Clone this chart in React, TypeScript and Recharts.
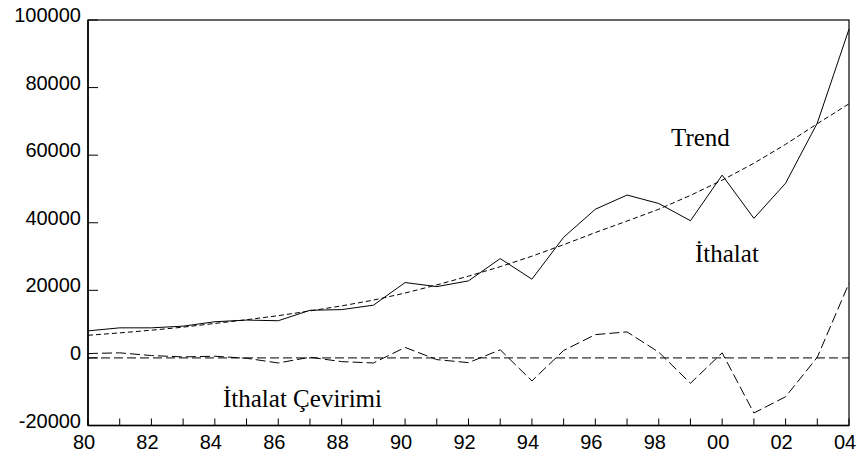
import * as R from "recharts";
import { LineChart, Line, XAxis, YAxis, ReferenceLine } from "recharts";

const years = ["80", "81", "82", "83", "84", "85", "86", "87", "88", "89", "90", "91", "92", "93", "94", "95", "96", "97", "98", "99", "00", "01", "02", "03", "04"];
const ithalat = [8000, 8900, 8900, 9400, 10700, 11200, 11000, 14100, 14300, 15600, 22300, 21100, 22800, 29400, 23300, 35700, 44000, 48200, 45700, 40600, 54100, 41300, 51700, 69500, 97300];
const trend = [6700, 7400, 8200, 9100, 10200, 11300, 12500, 13900, 15400, 17100, 19200, 21600, 24200, 27000, 30100, 33500, 37100, 40500, 44000, 48100, 52600, 57600, 63200, 69300, 75200];
const cevirim = [1300, 1500, 700, 300, 500, -100, -1500, 200, -1100, -1500, 3100, -500, -1400, 2400, -6800, 2200, 6900, 7700, 1700, -7500, 1500, -16300, -11500, 200, 22100];
const yTicks = [-20000, 0, 20000, 40000, 60000, 80000, 100000];

const data = years.map((year, i) => ({
  year,
  ithalat: ithalat[i],
  trend: trend[i],
  cevirim: cevirim[i],
}));

const tickFont = { fontFamily: "'Liberation Sans', Arial, sans-serif", fontSize: 20, fill: "#000" };
const labelFont = { fontFamily: "'Liberation Serif', 'Times New Roman', serif", fontSize: 25, fill: "#000" };

function XTick(props: any) {
  const { x, y, payload, index } = props;
  return (
    <g>
      <line x1={x} x2={x} y1={y} y2={y - 7} stroke="#000" strokeWidth={1} />
      {index % 2 === 0 && (
        <text x={x - 4} y={y + 23} textAnchor="middle" {...tickFont}>
          {payload.value}
        </text>
      )}
    </g>
  );
}

function YTick(props: any) {
  const { x, y, payload } = props;
  return (
    <g>
      <line x1={x} x2={x + 10} y1={y} y2={y} stroke="#000" strokeWidth={1} />
      <text x={x - 7} y={y + 2} textAnchor="end" {...tickFont}>
        {payload.value}
      </text>
    </g>
  );
}

// box round the plot, taken from the chart's own plot area
const usePlotArea: any = (R as any).usePlotArea || (() => null);
function Frame() {
  const area = usePlotArea();
  if (!area) return null;
  return (
    <rect x={area.x} y={area.y} width={area.width} height={area.height} fill="none" stroke="#000" strokeWidth={1.2} />
  );
}

export default function App() {
  return (
    <div style={{ position: "absolute", left: 0, top: 0, width: 857, height: 457, background: "#fff" }}>
      <LineChart width={857} height={457} data={data} margin={{ top: 20, right: 8, bottom: 0, left: 0 }}>
        <Frame />
        <XAxis
          dataKey="year"
          interval={0}
          height={31.5}
          tickSize={0}
          tickMargin={0}
          tickLine={false}
          tick={<XTick />}
          axisLine={{ stroke: "#000", strokeWidth: 1.5 }}
        />
        <YAxis
          domain={[-20000, 100000]}
          ticks={yTicks}
          width={88}
          tickSize={0}
          tickMargin={0}
          tickLine={false}
          tick={<YTick />}
          axisLine={{ stroke: "#000", strokeWidth: 1.5 }}
          allowDataOverflow
        />
        <ReferenceLine y={0} stroke="#000" strokeWidth={1} strokeDasharray="9 4" />
        <Line dataKey="trend" stroke="#000" strokeWidth={1} strokeDasharray="5 3" dot={false} isAnimationActive={false} />
        <Line dataKey="ithalat" stroke="#000" strokeWidth={1} dot={false} isAnimationActive={false} />
        <Line dataKey="cevirim" stroke="#000" strokeWidth={1} strokeDasharray="10 4" dot={false} isAnimationActive={false} />
        <text x={671} y={146} {...labelFont}>Trend</text>
        <text x={695} y={262} {...labelFont}>İthalat</text>
        <text x={223} y={407} {...labelFont}>İthalat Çevirimi</text>
      </LineChart>
    </div>
  );
}
